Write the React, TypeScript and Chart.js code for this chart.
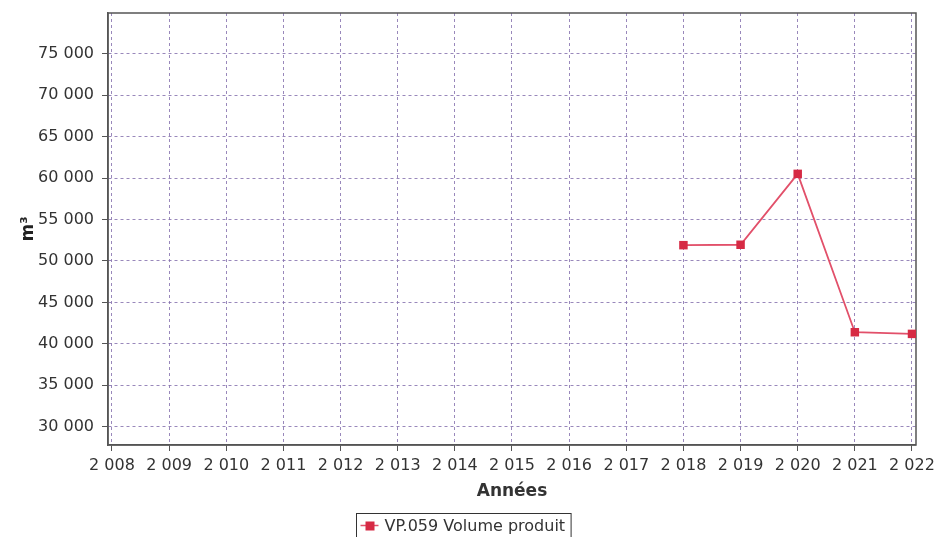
import React, { useEffect, useRef } from "react";
import { Chart, registerables } from "chart.js";

Chart.register(...registerables);

const years = [2008, 2009, 2010, 2011, 2012, 2013, 2014, 2015, 2016, 2017, 2018, 2019, 2020, 2021, 2022];
const volumes: (number | null)[] = [null, null, null, null, null, null, null, null, null, null, 51900, 51950, 60500, 41400, 41200];
const yTickValues = [30000, 35000, 40000, 45000, 50000, 55000, 60000, 65000, 70000, 75000];
const seriesLabel = "VP.059 Volume produit";
const xTitle = "Années";
const yTitle = "m³";

const FONT = "'DejaVu Sans', sans-serif";
const LINE_COLOR = "#e2506a";
const POINT_COLOR = "#d62a44";
const GRID_COLOR = "rgba(135,115,175,0.85)";

const fmt = (v: number) => String(Math.round(v)).replace(/\B(?=(\d{3})+(?!\d))/g, " ");

const framePlugin = {
  id: "frame",
  beforeDatasetsDraw(chart: any) {
    const { ctx, chartArea } = chart;
    ctx.save();
    ctx.strokeStyle = "#555";
    ctx.lineWidth = 1.5;
    ctx.strokeRect(chartArea.left, chartArea.top, chartArea.right - chartArea.left, chartArea.bottom - chartArea.top);
    ctx.restore();
  },
  afterDraw(chart: any) {
    const { ctx } = chart;
    ctx.save();
    ctx.font = `16px ${FONT}`;
    const tw = ctx.measureText(seriesLabel).width;
    const iconW = 24;
    const boxW = tw + iconW + 10;
    const boxH = 26;
    const cx = 463;
    const x0 = Math.round(cx - boxW / 2) + 0.5;
    const y0 = 513.5;
    ctx.strokeStyle = "#333";
    ctx.lineWidth = 1;
    ctx.strokeRect(x0, y0, boxW, boxH);
    const midY = y0 + 12;
    ctx.strokeStyle = LINE_COLOR;
    ctx.lineWidth = 1.5;
    ctx.beginPath();
    ctx.moveTo(x0 + 4, midY);
    ctx.lineTo(x0 + iconW - 2, midY);
    ctx.stroke();
    ctx.fillStyle = POINT_COLOR;
    ctx.fillRect(x0 + 4 + (iconW - 6) / 2 - 4, midY - 4, 9, 9);
    ctx.fillStyle = "#333";
    ctx.textBaseline = "middle";
    ctx.textAlign = "left";
    ctx.fillText(seriesLabel, x0 + iconW + 4, midY + 1);
    ctx.restore();
  },
};

export default function App() {
  const canvasRef = useRef<HTMLCanvasElement | null>(null);

  useEffect(() => {
    if (!canvasRef.current) return;
    const data = years.map((y, i) => ({ x: y, y: volumes[i] }));
    const chart = new Chart(canvasRef.current, {
      type: "line",
      data: {
        datasets: [
          {
            label: seriesLabel,
            data: data as any,
            borderColor: LINE_COLOR,
            backgroundColor: POINT_COLOR,
            borderWidth: 1.8,
            pointStyle: "rect",
            pointRadius: 6,
            pointBorderWidth: 0,
            pointBackgroundColor: POINT_COLOR,
            tension: 0,
            spanGaps: false,
          },
        ],
      },
      options: {
        animation: false,
        responsive: false,
        maintainAspectRatio: false,
        layout: { padding: { left: 0, top: 13, right: 21, bottom: 34 } },
        plugins: {
          legend: { display: false },
          tooltip: { enabled: false },
        },
        scales: {
          x: {
            type: "linear",
            min: 2007.93,
            max: 2022.07,
            afterBuildTicks: (scale: any) => {
              scale.ticks = years.map((y) => ({ value: y }));
            },
            afterFit: (scale: any) => {
              scale.height = 58;
            },
            ticks: {
              autoSkip: false,
              maxRotation: 0,
              padding: 5,
              color: "#333",
              font: { family: FONT, size: 16 },
              callback: (v: any) => fmt(Number(v)),
            },
            grid: {
              color: GRID_COLOR,
              lineWidth: 1,
              tickLength: 6,
              tickColor: "#555",
              tickBorderDash: [],
            },
            border: { display: true, color: "#555", width: 1.5, dash: [3, 3] },
            title: {
              display: true,
              text: xTitle,
              color: "#333",
              font: { family: FONT, size: 17, weight: "bold" },
              padding: { top: 0, bottom: 1 },
            },
          },
          y: {
            type: "linear",
            min: 27800,
            max: 79900,
            afterBuildTicks: (scale: any) => {
              scale.ticks = yTickValues.map((v) => ({ value: v }));
            },
            afterFit: (scale: any) => {
              scale.width = 108;
              scale.paddingTop = 0;
              scale.paddingBottom = 0;
            },
            ticks: {
              padding: 8,
              color: "#333",
              font: { family: FONT, size: 16 },
              callback: (v: any) => fmt(Number(v)),
            },
            grid: {
              color: GRID_COLOR,
              lineWidth: 1,
              tickLength: 6,
              tickColor: "#555",
              tickBorderDash: [],
            },
            border: { display: true, color: "#555", width: 1.5, dash: [3, 3] },
            title: {
              display: true,
              text: yTitle,
              color: "#222",
              font: { family: FONT, size: 17, weight: "bold" },
              padding: { top: 18, bottom: 0 },
            },
          },
        },
      },
      plugins: [framePlugin],
    });
    return () => chart.destroy();
  }, []);

  return (
    <div style={{ position: "fixed", left: 0, top: 0, width: 940, height: 537, background: "#fff" }}>
      <canvas ref={canvasRef} width={940} height={537} style={{ width: 940, height: 537 }} />
    </div>
  );
}
